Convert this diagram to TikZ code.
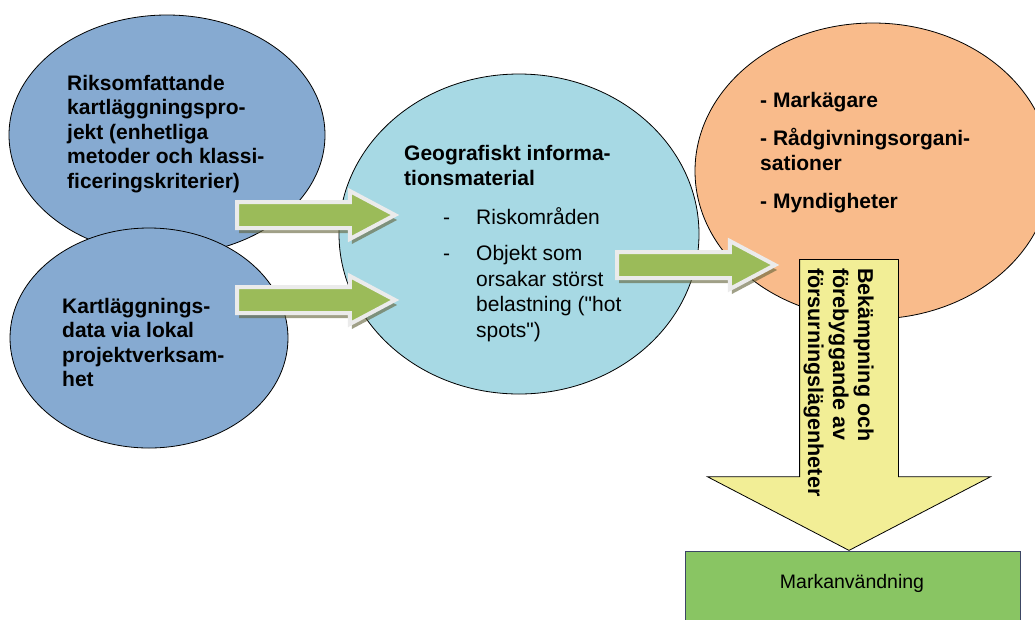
\documentclass[tikz,border=0pt]{standalone}
\usepackage{fontspec}
\setmainfont{Liberation Sans}[Ligatures=TeXOff]
\usetikzlibrary{shapes.geometric,shapes.arrows,shadows,positioning}
\definecolor{blobblue}{RGB}{134,170,209}
\definecolor{blobcyan}{RGB}{167,217,228}
\definecolor{bloborange}{RGB}{249,187,139}
\definecolor{arrowgreen}{RGB}{155,187,89}
\definecolor{arrowyellow}{RGB}{242,238,150}
\definecolor{boxgreen}{RGB}{137,197,99}
\definecolor{boxline}{RGB}{60,70,100}
\definecolor{shadowolive}{RGB}{97,97,55}
\tikzstyle{blob} = [ellipse, draw=black, line width=0.8pt, inner sep=0pt]
\tikzstyle{greenarrow} = [single arrow, fill=arrowgreen, draw=black!8, line width=4pt, inner xsep=0pt, inner ysep=11pt, single arrow head extend=11pt, single arrow tip angle=56, single arrow head indent=0pt, minimum height=158pt, anchor=tail, drop shadow={shadow xshift=2pt, shadow yshift=-5pt, fill=shadowolive, opacity=0.6}]
\tikzstyle{boldtext} = [font=\fontsize{21}{24.5}\selectfont\bfseries, align=left, inner sep=0pt, anchor=north west]
\tikzstyle{plaintext} = [font=\fontsize{21}{25.5}\selectfont, align=left, inner sep=0pt, anchor=north west]
\newcommand{\dash}{\makebox[33pt][l]{-}}
\newcommand{\hang}{\hspace*{33pt}}

\begin{document}
\begin{tikzpicture}[x=1pt,y=-1pt]
            \useasboundingbox (0,0) rectangle (1035,619);
            \clip (0,0) rectangle (1035,619);
            % ellipses
            \node [blob, fill=blobblue, minimum width=316pt, minimum height=240pt] (riks) at (167,135) {};
            \node [blob, fill=blobblue, minimum width=278pt, minimum height=220pt] (lokal) at (149,338) {};
            \node [blob, fill=blobcyan, minimum width=360pt, minimum height=320pt] (geo) at (519,234) {};
            \node [blob, fill=bloborange, minimum width=356pt, minimum height=296pt] (aktor) at (873,171) {};
            % green arrows
            \foreach \name/\x/\y in {riksarrow/235/215, lokalarrow/235/300, geoarrow/615/265} {
                \node [greenarrow] (\name) at (\x,\y) {};
            }
            % big arrow and box
            \node [single arrow, rotate=-90, fill=arrowyellow, draw=black, line width=0.8pt, inner xsep=0pt, inner ysep=49pt, single arrow head extend=92pt, single arrow tip angle=125, single arrow head indent=0pt, minimum height=291pt, anchor=tail] (atgard) at (849,259) {};
            \node [rectangle, fill=boxgreen, draw=boxline, line width=0.8pt, minimum width=335pt, minimum height=100pt, anchor=north] (mark) at (852.5,551) {};
            % texts
            \node [boldtext] (rikstext) at (67,75) {Riksomfattande\\kartläggningspro-\\jekt (enhetliga\\metoder och klassi-\\ficeringskriterier)};
            \node [boldtext] (lokaltext) at (62,298) {Kartläggnings-\\data via lokal\\projektverksam-\\het};
            \node [boldtext, font=\fontsize{21}{25}\selectfont\bfseries] (geohead) at (404,145) {Geografiskt informa-\\tionsmaterial};
            \node [plaintext] (geolist) at (443,207) {\dash Riskområden\\[11pt]\dash Objekt som\\\hang orsakar störst\\\hang belastning ("hot\\\hang spots")};
            \node [boldtext, font=\fontsize{21}{25}\selectfont\bfseries] (aktortext) at (760,92) {- Markägare\\[13pt]- Rådgivningsorgani-\\sationer\\[13pt]- Myndigheter};
            \node [boldtext, font=\fontsize{21.5}{25}\selectfont\bfseries, rotate=-90] (atgardtext) at (874,268) {Bekämpning och\\förebyggande av\\försurningslägenheter};
            \node [font=\fontsize{19.5}{23}\selectfont] (marktext) at (852,583) {Markanvändning};
\end{tikzpicture}
\end{document}
